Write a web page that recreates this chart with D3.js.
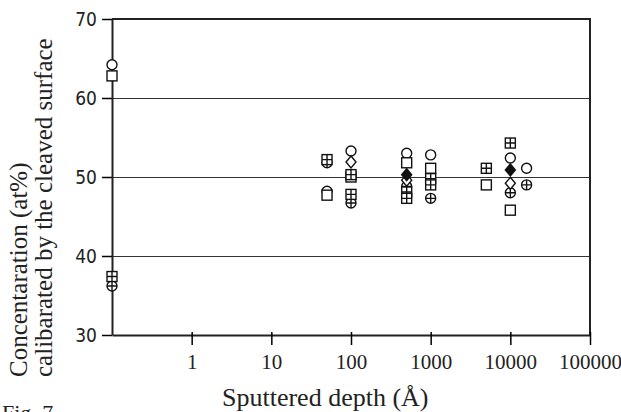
<!DOCTYPE html>
<html>
<head>
<meta charset="utf-8">
<script src="https://cdn.jsdelivr.net/npm/d3@7"></script>
<style>
body { margin: 0; background: #fff; }
.xlab text { font-family: "Liberation Serif", serif; font-size: 21px; fill: #222; }
.ylab text { font-family: "Liberation Sans Narrow", "DejaVu Sans Condensed", "Liberation Sans", sans-serif; font-size: 19px; fill: #222; }
.title { font-family: "Liberation Serif", serif; fill: #222; }
</style>
</head>
<body>
<svg></svg>
<script>
// tick labels
var depthTicks = [1, 10, 100, 1000, 10000, 100000];
var concTicks = [30, 40, 50, 60, 70];
var gridLines = [40, 50, 60];

// series, one per marker type (depth 0.1 = cleaved surface, drawn on the axis)
var circleDepth = [0.1, 50, 100, 500, 1000, 10000, 16000];
var circleConc  = [64.2, 48.2, 53.3, 53.0, 52.8, 52.4, 51.1];

var xcircDepth = [0.1, 50, 100, 500, 1000, 10000, 16000];
var xcircConc  = [36.2, 51.8, 46.7, 48.8, 47.3, 48.0, 49.0];

var squareDepth = [0.1, 50, 100, 500, 1000, 5000, 10000];
var squareConc  = [62.8, 47.7, 50.0, 51.8, 51.1, 49.0, 45.8];

var xsqDepth = [0.1, 50, 100, 100, 500, 500, 1000, 1000, 5000, 10000];
var xsqConc  = [37.4, 52.2, 50.3, 47.8, 48.1, 47.3, 49.8, 49.0, 51.1, 54.3];

var diamondDepth = [100, 500, 10000];
var diamondConc  = [51.9, 49.6, 49.2];

var fdiamondDepth = [500, 10000];
var fdiamondConc  = [50.3, 50.9];

var width = 621, height = 412;
var mLeft = 112, mRight = 590, mTop = 19, mBottom = 335;

var svg = d3.select("svg")
            .attr("width", width)
            .attr("height", height)

var x = d3.scaleLog().domain([0.1, 100000]).range([mLeft, mRight]);
var y = d3.scaleLinear().domain([30, 70]).range([mBottom, mTop]);

// grid lines
svg.append("g")
   .attr("transform", "translate(" + mLeft + ",0)")
   .call(d3.axisLeft(y).tickValues(gridLines).tickSize(-(mRight - mLeft)).tickFormat(""))
   .call(function(g){ g.select(".domain").remove(); })
   .selectAll("line").attr("stroke", "#333").attr("stroke-width", 1.2);

// frame top + right
svg.append("path")
   .attr("d", "M" + mLeft + "," + mTop + "H" + mRight + "V" + mBottom)
   .attr("fill", "none").attr("stroke", "#222").attr("stroke-width", 2);

// x axis
var xa = svg.append("g")
   .attr("class", "xlab")
   .attr("transform", "translate(0," + mBottom + ")")
   .call(d3.axisBottom(x).tickValues(depthTicks).tickSize(10).tickSizeOuter(0).tickPadding(9).tickFormat(d3.format("d")));
xa.select(".domain").attr("stroke-width", 2).attr("stroke", "#222");
xa.selectAll(".tick line").attr("y1", -3).attr("stroke-width", 1.5);

// y axis
var ya = svg.append("g")
   .attr("class", "ylab")
   .attr("transform", "translate(" + mLeft + ",0)")
   .call(d3.axisLeft(y).tickValues(concTicks).tickSize(10).tickSizeOuter(0).tickPadding(5));
ya.select(".domain").attr("stroke-width", 2).attr("stroke", "#222");
ya.selectAll(".tick line").attr("stroke-width", 1.5);

// markers
var drawSeries = function(depths, concs, kind)
{
  var g = svg.append("g");
  var pts = g.selectAll("g")
     .data(depths.map(function(d, i){ return [d, concs[i]]; }))
     .enter()
     .append("g")
     .attr("transform", function(d){ return "translate(" + x(d[0]) + "," + y(d[1]) + ")"; })
     .attr("stroke", "#111").attr("stroke-width", 1.4).attr("fill", "#fff");

  if (kind == "circle" || kind == "xcirc") {
    pts.append("circle").attr("r", 5);
  }
  if (kind == "square" || kind == "xsq") {
    pts.append("rect").attr("x", -5).attr("y", -5).attr("width", 10).attr("height", 10);
  }
  if (kind == "xcirc" || kind == "xsq") {
    pts.append("path").attr("d", "M-5,0H5M0,-5V5");
  }
  if (kind == "diamond" || kind == "fdiamond") {
    pts.append("path").attr("d", "M0,-6L5,0L0,6L-5,0Z")
       .attr("fill", kind == "fdiamond" ? "#111" : "#fff");
  }
}

drawSeries(circleDepth, circleConc, "circle");
drawSeries(xcircDepth, xcircConc, "xcirc");
drawSeries(squareDepth, squareConc, "square");
drawSeries(xsqDepth, xsqConc, "xsq");
drawSeries(diamondDepth, diamondConc, "diamond");
drawSeries(fdiamondDepth, fdiamondConc, "fdiamond");

// axis titles
svg.append("text")
   .attr("class", "title")
   .attr("x", 222).attr("y", 406)
   .attr("font-size", 26)
   .text("Sputtered depth  (\u00c5)");

svg.append("text")
   .attr("class", "title")
   .attr("transform", "translate(27,377) rotate(-90)")
   .attr("font-size", 25)
   .text("Concentaration (at%)");

svg.append("text")
   .attr("class", "title")
   .attr("transform", "translate(52,377) rotate(-90)")
   .attr("font-size", 25)
   .text("calibarated by the cleaved surface");

svg.append("text")
   .attr("class", "title")
   .attr("x", 2).attr("y", 420)
   .attr("font-size", 22)
   .text("Fig. 7");
</script>
</body>
</html>
